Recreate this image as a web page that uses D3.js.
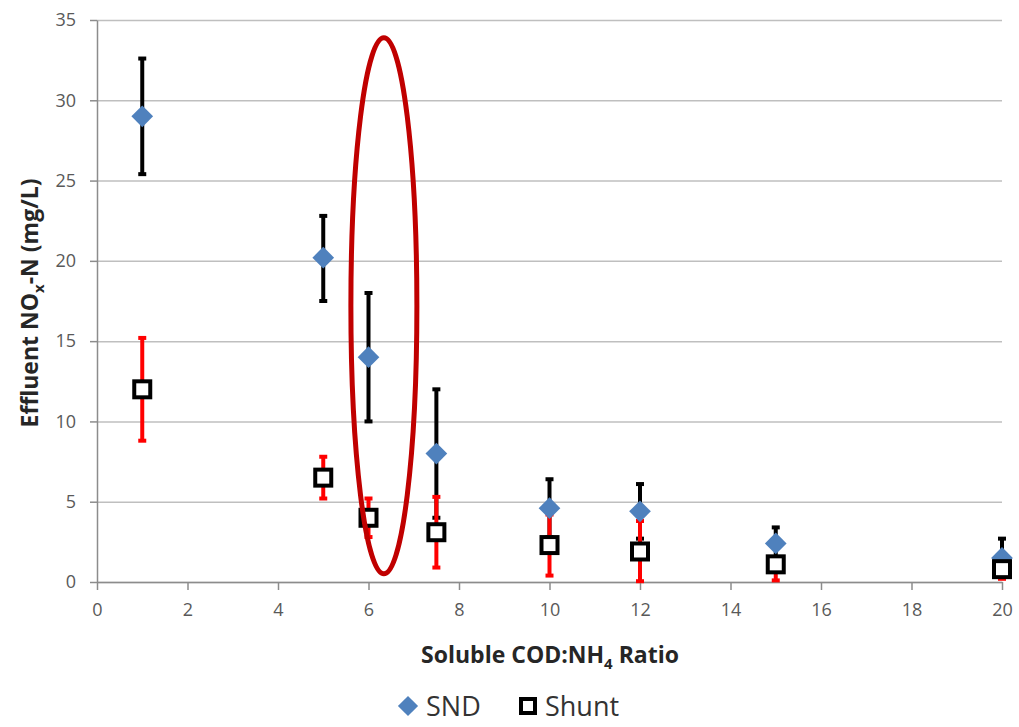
<!DOCTYPE html>
<meta charset="utf-8">
<style>
  body { margin: 0; background: #fff; }
  text { font-family: "Open Sans", "Liberation Sans", sans-serif; }
  .tick text { fill: #595959; font-size: 18px; }
  .axis .domain { stroke: #8c8c8c; }
  .axis .tick line { stroke: #8c8c8c; }
  .grid line { stroke: #bfbfbf; stroke-width: 1.5; }
  .grid .domain { display: none; }
</style>
<body>
<script src="https://d3js.org/d3.v7.min.js"></script>
<script>

// data
var ratios = [1, 5, 6, 7.5, 10, 12, 15, 20];
var sndMean = [29, 20.2, 14, 8, 4.6, 4.4, 2.4, 1.5];
var sndLow  = [25.4, 17.5, 10, 4.0, 2.8, 2.7, 1.4, 0.3];
var sndHigh = [32.6, 22.8, 18, 12, 6.4, 6.1, 3.4, 2.7];
var shuntMean = [12, 6.5, 4, 3.1, 2.3, 1.9, 1.1, 0.8];
var shuntLow  = [8.8, 5.2, 2.8, 0.9, 0.4, 0.05, 0.1, 0.2];
var shuntHigh = [15.2, 7.8, 5.2, 5.3, 4.2, 3.8, 1.5, 1.2];
var xTicks = [0, 2, 4, 6, 8, 10, 12, 14, 16, 18, 20];
var yTicks = [0, 5, 10, 15, 20, 25, 30, 35];
var legendNames = ["SND", "Shunt"];

var margin = { top: 20, right: 17, bottom: 145, left: 97 },
  width = 1019 - margin.left - margin.right,
  height = 727 - margin.top - margin.bottom;

var svg = d3.select("body").append("svg")
  .attr("width", 1019)
  .attr("height", 727);

var g = svg.append("g")
  .attr("transform", "translate(" + margin.left + "," + margin.top + ")");

var x = d3.scaleLinear().domain([0, 20]).range([0, 905]);
var y = d3.scaleLinear().domain([0, 35]).range([height, 0]);

// horizontal gridlines
g.append("g")
  .attr("class", "grid")
  .call(d3.axisLeft(y).tickValues(yTicks).tickSize(-905).tickFormat(""));

// axes
g.append("g")
  .attr("class", "axis")
  .call(d3.axisLeft(y).tickValues(yTicks).tickSize(7).tickSizeOuter(0).tickPadding(14));

g.append("g")
  .attr("class", "axis")
  .attr("transform", "translate(0," + height + ")")
  .call(d3.axisBottom(x).tickValues(xTicks).tickSize(8).tickSizeOuter(0).tickPadding(13));

g.selectAll(".axis .domain, .axis .tick line").attr("stroke-width", 1.5);

// error bars
function errorBars(lo, hi, color) {
  var eb = g.append("g").attr("stroke", color).attr("stroke-width", 4);
  ratios.forEach(function (r, i) {
    var cx = x(r);
    eb.append("line").attr("x1", cx).attr("x2", cx).attr("y1", y(lo[i])).attr("y2", y(hi[i]));
    [lo[i], hi[i]].forEach(function (v) {
      eb.append("line").attr("x1", cx - 4).attr("x2", cx + 4).attr("y1", y(v)).attr("y2", y(v));
    });
  });
}
errorBars(sndLow, sndHigh, "#000");
errorBars(shuntLow, shuntHigh, "#ff0000");

// markers
var diamond = d3.symbol().type(d3.symbolDiamond2).size(300);
g.selectAll(".snd")
  .data(ratios)
  .join("path")
  .attr("class", "snd")
  .attr("d", diamond)
  .attr("fill", "#4f81bd")
  .attr("transform", function (d, i) { return "translate(" + x(d) + "," + y(sndMean[i]) + ")"; });

g.selectAll(".shunt")
  .data(ratios)
  .join("rect")
  .attr("class", "shunt")
  .attr("x", function (d) { return x(d) - 8; })
  .attr("y", function (d, i) { return y(shuntMean[i]) - 8; })
  .attr("width", 16)
  .attr("height", 16)
  .attr("fill", "#fff")
  .attr("stroke", "#000")
  .attr("stroke-width", 4);

// red ellipse annotation
g.append("ellipse")
  .attr("cx", x(6.34))
  .attr("cy", y(17.2))
  .attr("rx", 33)
  .attr("ry", 268)
  .attr("fill", "none")
  .attr("stroke", "#c00000")
  .attr("stroke-width", 5);

// axis titles
var yt = svg.append("text")
  .attr("transform", "translate(38," + (margin.top + height / 2 + 2) + ") rotate(-90)")
  .attr("text-anchor", "middle")
  .attr("font-size", 23)
  .attr("font-weight", "bold")
  .attr("fill", "#262626");
yt.append("tspan").text("Effluent NO");
yt.append("tspan").attr("font-size", 15).attr("dy", 6).text("x");
yt.append("tspan").attr("dy", -6).text("-N (mg/L)");

var xt = svg.append("text")
  .attr("x", 550)
  .attr("y", 663)
  .attr("text-anchor", "middle")
  .attr("font-size", 23)
  .attr("font-weight", "bold")
  .attr("fill", "#262626");
xt.append("tspan").text("Soluble COD:NH");
xt.append("tspan").attr("font-size", 15).attr("dy", 6).text("4");
xt.append("tspan").attr("dy", -6).text(" Ratio");

// legend
var lg = svg.append("g").attr("transform", "translate(0,706)");
lg.append("path")
  .attr("d", d3.symbol().type(d3.symbolDiamond2).size(260))
  .attr("fill", "#4f81bd")
  .attr("transform", "translate(408,0)");
lg.append("text").attr("x", 426).attr("y", 10).attr("font-size", 27).attr("fill", "#333").text(legendNames[0]);
lg.append("rect")
  .attr("x", 521).attr("y", -7).attr("width", 14).attr("height", 14)
  .attr("fill", "#fff").attr("stroke", "#000").attr("stroke-width", 4);
lg.append("text").attr("x", 545).attr("y", 10).attr("font-size", 27).attr("fill", "#333").text(legendNames[1]);

</script>
